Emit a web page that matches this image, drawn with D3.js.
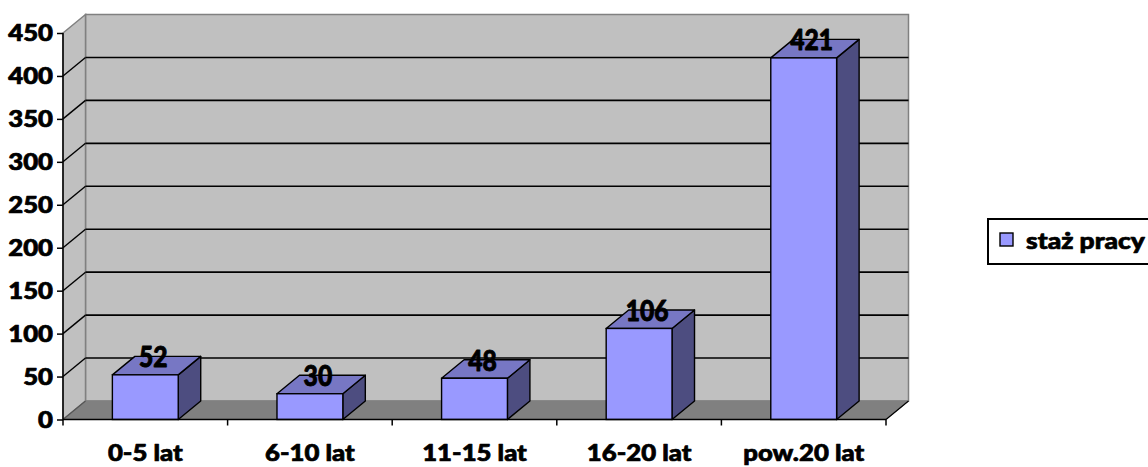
<!DOCTYPE html>
<html><head><meta charset="utf-8">
<script src="https://cdn.jsdelivr.net/npm/d3@7"></script>
<style>body{margin:0;background:#fff}svg{display:block}text{font-family:Lato,"Open Sans",sans-serif;font-weight:900;fill:#000;stroke:#000;stroke-width:0.7px;stroke-linejoin:round}</style>
</head><body>
<script>
const categories = ["0-5 lat","6-10 lat","11-15 lat","16-20 lat","pow.20 lat"];
const values = [52, 30, 48, 106, 421];
const yTicks = [0,50,100,150,200,250,300,350,400,450];
const seriesName = "staż pracy";

const W = 1148, H = 467;
const svg = d3.select("body").append("svg").attr("width", W).attr("height", H);

const x0 = 63, x1 = 886;
const y = d3.scaleLinear().domain([0, 450]).range([419.5, 33]);
const x = d3.scaleBand().domain(categories).range([x0, x1]).paddingInner(0).paddingOuter(0);
const DX = 22.5, DY = -18.5;
const barW = x.bandwidth() * 0.4;
const SX = 1.17;

const pts = a => a.map(p => p.join(",")).join(" ");

// back wall
svg.append("polygon")
  .attr("points", pts([[x0+DX, y(450)+DY],[x1+DX, y(450)+DY],[x1+DX, y(0)+DY],[x0+DX, y(0)+DY]]))
  .attr("fill", "#c0c0c0").attr("stroke", "#808080").attr("stroke-width", 1.5);
// side wall
svg.append("polygon")
  .attr("points", pts([[x0, y(450)],[x0+DX, y(450)+DY],[x0+DX, y(0)+DY],[x0, y(0)]]))
  .attr("fill", "#c0c0c0").attr("stroke", "#808080").attr("stroke-width", 1.5);
// floor
svg.append("polygon")
  .attr("points", pts([[x0, y(0)],[x0+DX, y(0)+DY],[x1+DX, y(0)+DY],[x1, y(0)]]))
  .attr("fill", "#808080").attr("stroke", "#808080").attr("stroke-width", 1);
svg.append("line").attr("x1", x1).attr("y1", y(0)).attr("x2", x1+DX).attr("y2", y(0)+DY)
  .attr("stroke", "#000").attr("stroke-width", 1.2);
svg.append("line").attr("x1", x0).attr("y1", y(0)).attr("x2", x0+DX).attr("y2", y(0)+DY)
  .attr("stroke", "#555").attr("stroke-width", 1.2);

// gridlines
const inner = yTicks.filter(t => t > 0 && t < 450);
svg.append("g").selectAll("line").data(inner).join("line")
  .attr("x1", x0+DX).attr("x2", x1+DX)
  .attr("y1", d => y(d)+DY).attr("y2", d => y(d)+DY)
  .attr("stroke", "#000").attr("stroke-width", 1.6);
svg.append("g").selectAll("line").data(inner).join("line")
  .attr("x1", x0).attr("x2", x0+DX)
  .attr("y1", d => y(d)).attr("y2", d => y(d)+DY)
  .attr("stroke", "#000").attr("stroke-width", 1.4);

// bars
const bars = svg.append("g").selectAll("g").data(values).join("g");
bars.each(function(v, i) {
  const g = d3.select(this);
  const cx = x(categories[i]) + x.bandwidth()/2;
  const l = cx - barW/2, r = cx + barW/2;
  const t = y(v), b = y(0);
  g.append("polygon").attr("points", pts([[r,b],[r,t],[r+DX,t+DY],[r+DX,b+DY]]))
    .attr("fill", "#4d4d80").attr("stroke", "#000").attr("stroke-width", 1.4).attr("stroke-linejoin","round");
  g.append("polygon").attr("points", pts([[l,t],[l+DX,t+DY],[r+DX,t+DY],[r,t]]))
    .attr("fill", "#7777c4").attr("stroke", "#000").attr("stroke-width", 1.4).attr("stroke-linejoin","round");
  g.append("rect").attr("x", l).attr("y", t).attr("width", barW).attr("height", b - t)
    .attr("fill", "#9999ff").attr("stroke", "#000").attr("stroke-width", 1.4);
  g.append("text").attr("transform", `translate(${cx + 8},${t - 7.5}) scale(1.12,1.3)`)
    .attr("text-anchor", "middle").attr("font-size", 22).text(v);
});

// axes
const yAxis = d3.axisLeft(y).tickValues(yTicks).tickSize(6).tickPadding(4);
const ga = svg.append("g").attr("transform", `translate(${x0},0)`).call(yAxis);
ga.select(".domain").attr("stroke", "#000").attr("stroke-width", 1.5).attr("d", `M-0,${y(450)}V${y(0)}`);
ga.selectAll(".tick line").attr("stroke", "#000").attr("stroke-width", 1.5);
ga.selectAll(".tick text").attr("font-size", 22).attr("font-family", null).attr("dy", "0.36em")
  .attr("x", -10 / SX).attr("transform", `scale(${SX},1)`);

const xAxis = d3.axisBottom(x).tickSize(0).tickPadding(26);
const gx = svg.append("g").attr("transform", `translate(0,${y(0)})`).call(xAxis);
gx.select(".domain").attr("stroke", "#000").attr("stroke-width", 1.5).attr("d", `M${x0},0H${x1}`);
gx.selectAll(".tick text").attr("font-size", 22).attr("font-family", null)
  .attr("transform", `scale(${SX},1)`);
const bounds = categories.map(c => x(c)).concat([x1]);
gx.append("g").selectAll("line").data(bounds).join("line")
  .attr("x1", d => d).attr("x2", d => d).attr("y1", 0).attr("y2", 6)
  .attr("stroke", "#000").attr("stroke-width", 1.5);

// legend
const lg = svg.append("g");
lg.append("rect").attr("x", 988).attr("y", 219).attr("width", 200).attr("height", 45)
  .attr("fill", "#fff").attr("stroke", "#000").attr("stroke-width", 2);
lg.append("rect").attr("x", 1000).attr("y", 233).attr("width", 13).attr("height", 13)
  .attr("fill", "#9999ff").attr("stroke", "#000").attr("stroke-width", 1.4);
lg.append("text").attr("transform", `translate(1026,249) scale(1.2,1)`).attr("font-size", 22).text(seriesName);
</script>
</body></html>
